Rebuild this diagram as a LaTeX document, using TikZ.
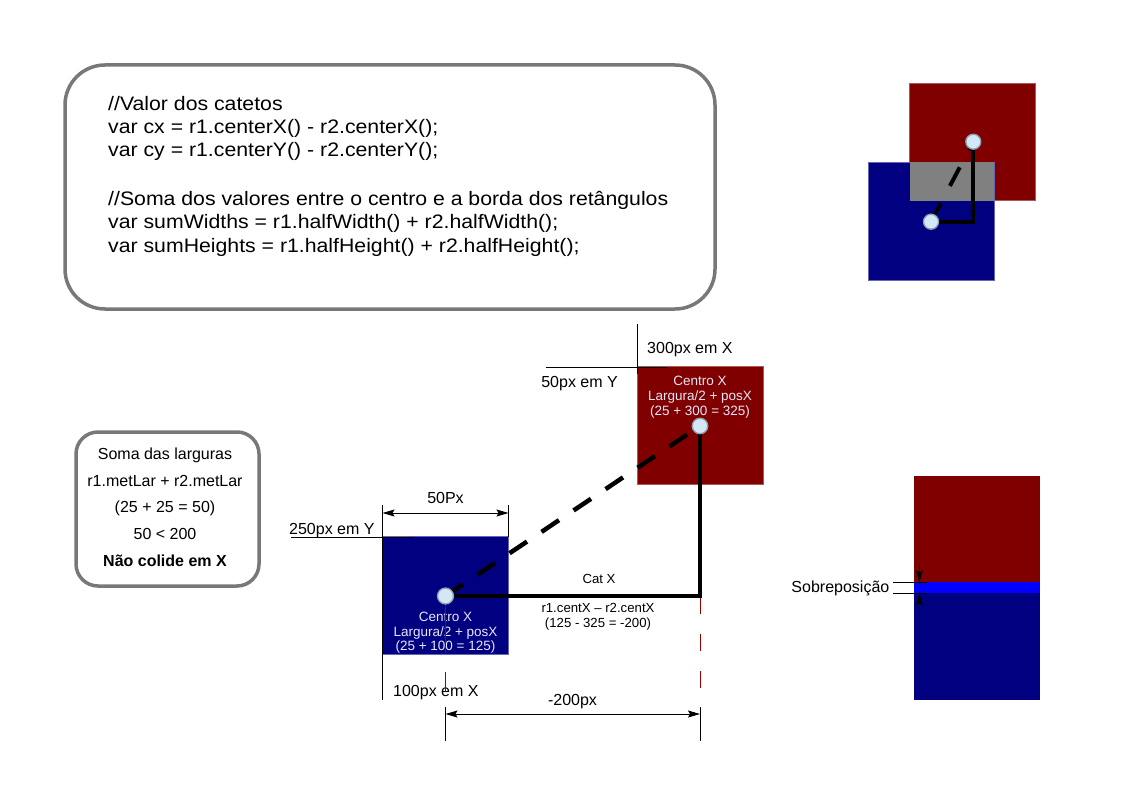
\documentclass[tikz,border=0pt]{standalone}
\usepackage{fontspec}
\setmainfont{Liberation Sans}
\newfontfamily\codefont[FakeStretch=1.09]{Liberation Sans}
\usetikzlibrary{arrows.meta}
\definecolor{sqred}{RGB}{128,0,0}
\definecolor{sqnavy}{RGB}{0,0,128}
\definecolor{sqgray}{RGB}{128,128,128}
\definecolor{sqblue}{RGB}{0,0,255}
\definecolor{sqtext}{RGB}{230,230,250}
\definecolor{dotfill}{RGB}{212,231,244}
\definecolor{dotedge}{RGB}{140,160,178}
\definecolor{boxgray}{RGB}{120,120,120}
\definecolor{guidered}{RGB}{150,0,0}
\tikzset{
  sqbox/.style={minimum width=126pt, minimum height=117.5pt, inner sep=0pt, outer sep=0pt},
  redsq/.style={sqbox, fill=sqred, draw=sqred!65!white, line width=0.8pt},
  navysq/.style={sqbox, fill=sqnavy, draw=sqnavy!60!white, line width=0.8pt},
  plainrect/.style={inner sep=0pt, outer sep=0pt, anchor=north west},
  dot/.style={circle, fill=dotfill, draw=dotedge, line width=1.3pt, minimum size=15.5pt, inner sep=0pt},
  legline/.style={line width=4.5pt, line join=miter},
  legdash/.style={line width=4.5pt, dash pattern=on 21pt off 17.5pt},
  smallline/.style={line width=4pt, line join=miter},
  smalldash/.style={line width=4pt, dash pattern=on 21pt off 19.5pt},
  hair/.style={line width=0.9pt},
  guide/.style={line width=1pt, draw=guidered},
  dimarrow/.style={hair, {Stealth[length=12pt,width=7pt,inset=2pt]}-{Stealth[length=12pt,width=7pt,inset=2pt]}},
  tipdown/.style={hair, -{Stealth[length=12pt,width=7pt,inset=2pt]}},
  lbl/.style={inner sep=0pt, font=\fontsize{16}{19}\selectfont},
  sqtxt/.style={inner sep=0pt, anchor=base, font=\fontsize{13.5}{15}\selectfont, text=sqtext},
  midtxt/.style={inner sep=0pt, anchor=base, font=\fontsize{13.2}{15}\selectfont},
  codeline/.style={inner sep=0pt, anchor=base west, font=\codefont\fontsize{19.5}{23}\selectfont},
  roundbox/.style={draw=boxgray, line width=3.5pt, fill=white, inner sep=0pt},
}
\begin{document}
\begin{tikzpicture}[x=1pt, y=-1pt]
\useasboundingbox[fill=white] (0,0) rectangle (1123,794);

% ---------- code box ----------
\node[roundbox, rounded corners=40pt, minimum width=650pt, minimum height=244pt] (codebox) at (390,187) {};
\node[codeline] (c1) at (108,111) {//Valor dos catetos};
\node[codeline] (c2) at (108,134) {var cx = r1.centerX() - r2.centerX();};
\node[codeline] (c3) at (108,157) {var cy = r1.centerY() - r2.centerY();};
\node[codeline] (c4) at (108,205.5) {//Soma dos valores entre o centro e a borda dos retângulos};
\node[codeline] (c5) at (108,229) {var sumWidths = r1.halfWidth() + r2.halfWidth();};
\node[codeline] (c6) at (108,252) {var sumHeights = r1.halfHeight() + r2.halfHeight();};

% ---------- left summary box ----------
\node[roundbox, rounded corners=22pt, minimum width=183pt, minimum height=154pt] (sumbox) at (167.5,509) {};
\node[lbl, anchor=base] (s1) at (165,459) {Soma das larguras};
\node[lbl, anchor=base] (s2) at (165,486.5) {r1.metLar + r2.metLar};
\node[lbl, anchor=base] (s3) at (165,512.5) {(25 + 25 = 50)};
\node[lbl, anchor=base] (s4) at (165,539) {50 < 200};
\node[lbl, anchor=base, font=\fontsize{16}{19}\selectfont\bfseries] (s5) at (165,566) {Não colide em X};

% ---------- top-right small sketch ----------
\node[redsq] (tR) at (972.85,142) {};
\node[navysq] (tB) at (931.15,221.15) {};
\node[plainrect, fill=sqgray, minimum width=84pt, minimum height=38.4pt] (tG) at (910,162.3) {};
\coordinate (tpR) at (973.3,141.7);
\coordinate (tpB) at (931,221.7);
\draw[smalldash] (tpB) -- (tpR);
\draw[smallline] (tpR) -- (tpR |- tpB) -- (tpB);
\node[dot, minimum size=15pt] (tdR) at (tpR) {};
\node[dot, minimum size=15pt] (tdB) at (tpB) {};

% ---------- main squares ----------
\node[redsq] (R) at (700,425.5) {};
\node[navysq] (B) at (445.5,595.5) {};

% reference lines for red square
\coordinate (rv1) at (637,324); \coordinate (rv2) at (637,374);
\coordinate (rh1) at (545.5,367); \coordinate (rh2) at (667,367);
\draw[hair] (rv1) -- (rv2);
\draw[hair] (rh1) -- (rh2);
\node[lbl, anchor=base west] (l300) at (647,353) {300px em X};
\node[lbl, anchor=base east] (l50y) at (618,387) {50px em Y};

% reference lines for blue square
\coordinate (bv1) at (382.5,505); \coordinate (bv2) at (382.5,700);
\coordinate (bw1) at (508.5,505); \coordinate (bw2) at (508.5,537);
\coordinate (bh1) at (291,537.5); \coordinate (bh2) at (413,537.5);
\draw[hair] (bv1) -- (bv2);
\draw[hair] (bw1) -- (bw2);
\draw[hair] (bh1) -- (bh2);
\coordinate (a50l) at (382.5,513); \coordinate (a50r) at (508.5,513);
\draw[dimarrow] (a50l) -- (a50r);
\node[lbl, anchor=base] (l50p) at (445.5,503) {50Px};
\node[lbl, anchor=base west] (l250) at (289,534) {250px em Y};
\node[lbl, anchor=base west] (l100) at (393,696) {100px em X};

% square labels
\node[sqtxt] (rt1) at (700,385) {Centro X};
\node[sqtxt] (rt2) at (700,400) {Largura/2 + posX};
\node[sqtxt] (rt3) at (700,415) {(25 + 300 = 325)};
\node[sqtxt] (bt1) at (445.5,621) {Centro X};
\node[sqtxt] (bt2) at (445.5,636) {Largura/2 + posX};
\node[sqtxt] (bt3) at (445.5,650) {(25 + 100 = 125)};

% red guide lines
\coordinate (gB1) at (445.5,604); \coordinate (gB2) at (445.5,692);
\coordinate (gR1) at (700,597); \coordinate (gR2) at (700,716);
\draw[guide, dash pattern=on 49pt off 19pt on 20pt off 60pt] (gB1) -- (gB2);
\draw[guide, dash pattern=on 17pt off 20pt] (gR1) -- (gR2);

% bottom dimension
\coordinate (eB1) at (445.5,707); \coordinate (eB2) at (445.5,741);
\coordinate (eR1) at (700,707); \coordinate (eR2) at (700,741);
\draw[hair] (eB1) -- (eB2);
\draw[hair] (eR1) -- (eR2);
\coordinate (a200l) at (445.5,714); \coordinate (a200r) at (700,714);
\draw[dimarrow] (a200l) -- (a200r);
\node[lbl, anchor=base] (l200) at (572.5,705) {-200px};

% triangle between centres
\coordinate (pR) at (700,426);
\coordinate (pB) at (445.5,596);
\draw[legdash] (pB) -- (pR);
\draw[legline] (pR) -- (pR |- pB) -- (pB);
\node[dot] (dR) at (pR) {};
\node[dot, minimum size=16pt] (dB) at (pB) {};

\node[midtxt] (catx) at (599,583) {Cat X};
\node[midtxt] (cat1) at (598,612) {r1.centX – r2.centX};
\node[midtxt] (cat2) at (598,627) {(125 - 325 = -200)};

% ---------- bottom-right overlap sketch ----------
\node[plainrect, fill=sqred, minimum width=126pt, minimum height=106.3pt] (oR) at (914,476) {};
\node[plainrect, fill=sqblue, minimum width=126pt, minimum height=11pt] (oS) at (914,582.3) {};
\node[plainrect, fill=sqnavy, minimum width=126pt, minimum height=106.7pt] (oB) at (914,593.3) {};
\coordinate (ol1) at (893.3,582.3); \coordinate (ol2) at (926.7,582.3);
\coordinate (ol3) at (893.3,593.3); \coordinate (ol4) at (926.7,593.3);
\draw[hair] (ol1) -- (ol2);
\draw[hair] (ol3) -- (ol4);
\coordinate (oa1) at (919.3,564); \coordinate (oa2) at (919.3,582.3);
\coordinate (oa3) at (919.3,613); \coordinate (oa4) at (919.3,593.3);
\draw[tipdown] (oa1) -- (oa2);
\draw[tipdown] (oa3) -- (oa4);
\node[lbl, anchor=base east] (lsob) at (889.5,592.5) {Sobreposição};
\end{tikzpicture}
\end{document}
